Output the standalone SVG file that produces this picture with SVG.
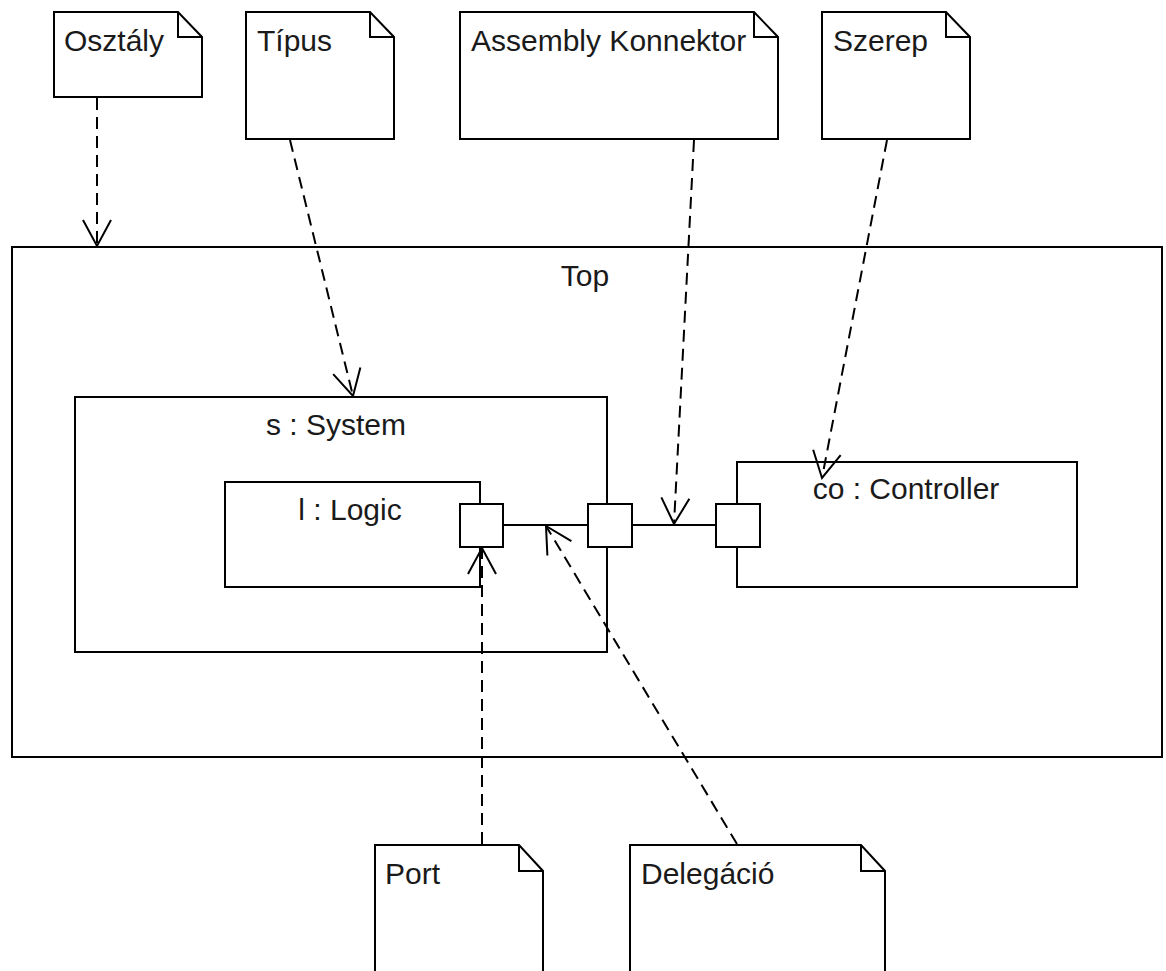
<svg xmlns="http://www.w3.org/2000/svg" width="1166" height="971" viewBox="0 0 1166 971">
<style>
.box{fill:#fff;stroke:#000;stroke-width:2}
.note{fill:#fff;stroke:#000;stroke-width:2;stroke-linejoin:miter}
.lbl{font-family:"Liberation Sans",Arial,sans-serif;font-size:30px;fill:#1a1a1a}
.mid{text-anchor:middle}
.dep{fill:none;stroke:#000;stroke-width:2;stroke-dasharray:12,7;marker-end:url(#open)}
.wire{fill:none;stroke:#000;stroke-width:2}
</style>
<defs>
<marker id="open" markerUnits="userSpaceOnUse" orient="auto" refX="0" refY="0" markerWidth="40" markerHeight="40" overflow="visible">
<path d="M-26,-14 L0,0 L-26,14" fill="none" stroke="#000" stroke-width="2"/>
</marker>
</defs>
<rect width="1166" height="971" fill="#fff"/>

<g id="top">
<rect class="box" x="12" y="247" width="1150" height="510"/>
<text class="lbl mid" x="585" y="286">Top</text>
</g>
<g id="system">
<rect class="box" x="75" y="397" width="532" height="255"/>
<text class="lbl mid" x="336" y="435">s : System</text>
</g>
<g id="logic">
<rect class="box" x="225" y="482" width="255" height="105"/>
<text class="lbl mid" x="350" y="520">l : Logic</text>
</g>
<g id="controller">
<rect class="box" x="737" y="462" width="340" height="125"/>
<text class="lbl mid" x="906" y="499">co : Controller</text>
</g>

<g id="connectors">
<line class="wire" x1="503" y1="525" x2="588" y2="525"/>
<line class="wire" x1="632" y1="525" x2="716" y2="525"/>
<line class="dep" x1="97" y1="98" x2="97" y2="246"/>
<line class="dep" x1="290" y1="140" x2="353" y2="396"/>
<line class="dep" x1="694" y1="140" x2="674" y2="524"/>
<line class="dep" x1="887" y1="140" x2="822" y2="478"/>
<line class="dep" x1="482" y1="844" x2="482" y2="548"/>
<line class="dep" x1="737" y1="844" x2="546" y2="526"/>
</g>

<g id="port-logic"><rect class="box" x="460" y="504" width="43" height="43"/></g>
<g id="port-system"><rect class="box" x="588" y="504" width="44" height="43"/></g>
<g id="port-controller"><rect class="box" x="716" y="504" width="44" height="43"/></g>

<g id="note-osztaly">
<path class="note" d="M54,12 H178 L202,37 V97 H54 Z M178,12 V37 H202"/>
<text class="lbl" x="64" y="51">Osztály</text>
</g>
<g id="note-tipus">
<path class="note" d="M246,12 H370 L394,37 V139 H246 Z M370,12 V37 H394"/>
<text class="lbl" x="257" y="51">Típus</text>
</g>
<g id="note-assembly">
<path class="note" d="M460,12 H754 L778,37 V139 H460 Z M754,12 V37 H778"/>
<text class="lbl" x="471" y="51">Assembly Konnektor</text>
</g>
<g id="note-szerep">
<path class="note" d="M822,12 H946 L970,37 V139 H822 Z M946,12 V37 H970"/>
<text class="lbl" x="833" y="51">Szerep</text>
</g>
<g id="note-port">
<path class="note" d="M375,845 H519 L543,871 V980 H375 Z M519,845 V871 H543"/>
<text class="lbl" x="385" y="884">Port</text>
</g>
<g id="note-delegacio">
<path class="note" d="M630,845 H861 L885,871 V980 H630 Z M861,845 V871 H885"/>
<text class="lbl" x="641" y="884">Delegáció</text>
</g>
</svg>
